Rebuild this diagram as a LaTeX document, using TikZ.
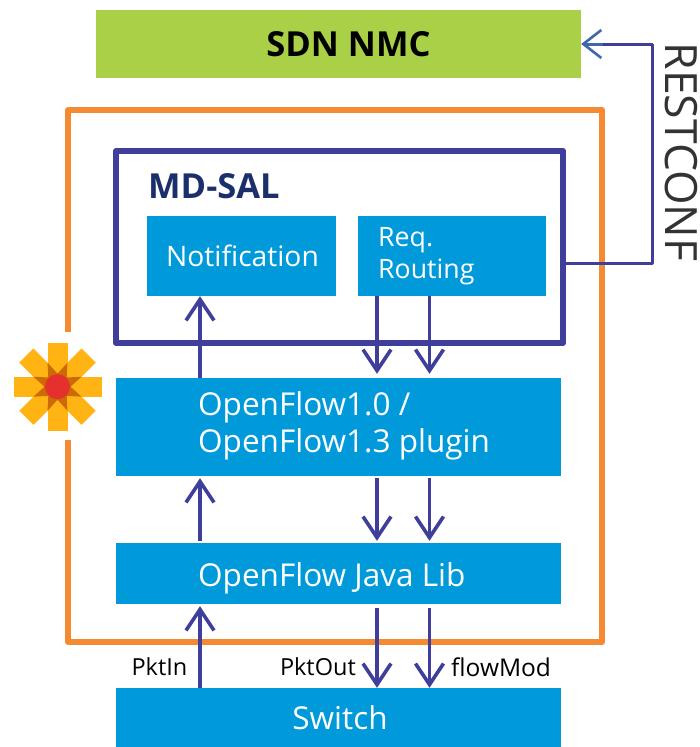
\documentclass[tikz,border=0pt]{standalone}
\usepackage{fontspec}
\setmainfont{Open Sans}
\usetikzlibrary{arrows.meta}
\definecolor{cblue}{HTML}{009ADA}
\definecolor{cgreen}{HTML}{A9D046}
\definecolor{corange}{HTML}{F58A32}
\definecolor{cindigo}{HTML}{3F3F9B}
\definecolor{cnavy}{HTML}{1B2F6B}
\definecolor{crest}{HTML}{4066B0}
\definecolor{cgold}{HTML}{FFB414}
\definecolor{cdark}{HTML}{CC6A06}
\definecolor{cred}{HTML}{E6302E}
\tikzset{
  x=1pt,y=-1pt,
  blue box/.style={fill=cblue,text=white,inner sep=0pt},
  label text/.style={text=white,inner sep=0pt,anchor=west,align=left},
  frame box/.style={draw=#1,line width=6pt,line join=round,inner sep=0pt},
  flow/.style={draw=cindigo,line width=3.6pt,-{Straight Barb[length=21pt,width=28pt,line width=3.6pt]}},
  msg/.style={font=\fontsize{23.5}{26}\selectfont,text=black,inner sep=0pt},
}
\begin{document}
\begin{tikzpicture}
\useasboundingbox (0,0) rectangle (699,747);
% frames
\node[frame box=corange,minimum width=534pt,minimum height=532pt] (odl) at (335,376) {};
\fill[white] (0,332) rectangle (105,440);
\node[frame box=cindigo,minimum width=447pt,minimum height=192pt] (salframe) at (339.5,247) {};
% boxes
\node[fill=cgreen,minimum width=485pt,minimum height=68pt,inner sep=0pt,font=\fontsize{34.5}{38}\selectfont\bfseries,text=black] (nmc) at (338.5,44) {\hspace*{20pt}SDN NMC};
\node[font=\fontsize{34.5}{38}\selectfont\bfseries,text=cnavy,anchor=west,inner sep=0pt] (sal) at (148,186) {MD-SAL};
\node[blue box,minimum width=189pt,minimum height=80pt,font=\fontsize{28.2}{34}\selectfont] (notif) at (241.5,256) {\hspace*{2pt}\raisebox{1pt}{Notification}};
\node[blue box,minimum width=188pt,minimum height=80pt] (req) at (452,256) {};
\node[label text,font=\fontsize{26.7}{32}\selectfont] (reqtext) at (378,256) {Req.\\Routing};
\node[blue box,minimum width=445pt,minimum height=98pt] (plugin) at (338.5,427) {};
\node[label text,font=\fontsize{31.5}{37}\selectfont] (plugintext) at (198,426) {OpenFlow1.0 /\\OpenFlow1.3 plugin};
\node[blue box,minimum width=445pt,minimum height=61pt] (java) at (338.5,573.5) {};
\node[label text,font=\fontsize{31.5}{36}\selectfont] (javatext) at (198,578) {OpenFlow Java Lib};
\node[blue box,minimum width=445pt,minimum height=59pt,font=\fontsize{31.5}{36}\selectfont] (switch) at (338.5,717.5) {\hspace*{3pt}\raisebox{-5pt}{Switch}};
% lanes
\coordinate (up) at (200,0);
\coordinate (downa) at (377,0);
\coordinate (downb) at (429.5,0);
% arrows
\draw[flow] (plugin.north -| up) -- (notif.south -| up);
\draw[flow] (req.south -| downa) -- ([yshift=4pt]plugin.north -| downa);
\draw[flow] (req.south -| downb) -- ([yshift=4pt]plugin.north -| downb);
\draw[flow] ([yshift=2pt]java.north -| up) -- ([yshift=-2pt]plugin.south -| up);
\draw[flow] ([yshift=-2pt]plugin.south -| downa) -- ([yshift=2pt]java.north -| downa);
\draw[flow] ([yshift=-2pt]plugin.south -| downb) -- ([yshift=2pt]java.north -| downb);
\draw[flow] (switch.north -| up) -- ([yshift=-2pt]java.south -| up);
\draw[flow] ([yshift=-4pt]java.south -| downa) -- (switch.north -| downa);
\draw[flow] ([yshift=-4pt]java.south -| downb) -- (switch.north -| downb);
% restconf
\coordinate (corner) at (652,0);
\coordinate (tap) at (0,263);
\draw[cindigo,line width=3pt,line join=round] (salframe.east |- tap) -- (corner |- tap) -- (nmc.east -| corner) -- ([xshift=22pt]nmc.east);
\draw[crest,line width=3pt,-{Straight Barb[length=18pt,width=28pt,line width=2.6pt]}] ([xshift=22pt]nmc.east) -- (nmc.east);
\node[rotate=-90,font=\fontsize{44.5}{48}\fontseries{l}\selectfont,text=black!80,inner sep=0pt] (rest) at (681,152) {RESTCONF};
% labels
\node[msg,anchor=east] (pktin) at (187.5,667) {PktIn};
\node[msg,anchor=east] (pktout) at (356,667) {PktOut};
\node[msg,anchor=west,font=\fontsize{24.5}{26}\selectfont] (flowmod) at (451,667) {flowMod};
% logo
\begin{scope}[shift={(57.5,386.7)}]
  \foreach \a in {0,45,...,135}{
    \fill[cgold,rotate=\a] (-44,-10) rectangle (44,10);
  }
  \fill[cdark] (13,0)
    \foreach \i in {1,...,15}{ -- ({\i*22.5}:{ifthenelse(mod(\i,2)==0,13,26)}) } -- cycle;
  \fill[cred] (0,0) circle (12.5);
\end{scope}
\end{tikzpicture}
\end{document}
